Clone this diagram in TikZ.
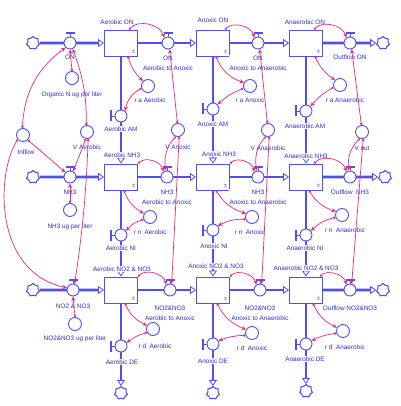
\documentclass[tikz,border=0pt]{standalone}
\usepackage{fontspec}
\setmainfont{Liberation Sans}
\usetikzlibrary{arrows.meta,shapes.symbols,backgrounds}
\definecolor{vblue}{RGB}{80,80,240}
\definecolor{tblue}{RGB}{45,45,205}
\definecolor{vpink}{RGB}{236,40,120}
\newcommand\myhvalve[2]{%
  \node[valve] (#1) at (#2) {};
  \draw[vblue,line width=0.8pt] (#1.north) -- ([yshift=3.5pt]#1.north);
  \fill[vblue] ([xshift=-4.5pt,yshift=3pt]#1.north) rectangle ([xshift=4.5pt,yshift=4.8pt]#1.north);}
\newcommand\myvvalve[2]{%
  \node[valve] (#1) at (#2) {};
  \draw[vblue,line width=0.8pt] (#1.west) -- ([xshift=-3.5pt]#1.west);
  \fill[vblue] ([xshift=-3pt,yshift=-5.5pt]#1.west) rectangle ([xshift=-4.8pt,yshift=5.5pt]#1.west);}
\newcommand\mystock[2]{%
  \node[stock] (#1) at (#2) {};
  \node[pm] (#1pm) at ([xshift=-4.5pt,yshift=5pt]#1.south east) {±};}
\begin{document}
\begin{tikzpicture}[x=1pt,y=-1pt,
  lbl/.style={text=tblue, font=\fontsize{6.4}{10}\selectfont, inner sep=0.6pt, fill=white, align=center},
  pm/.style={text=vblue, font=\fontsize{6}{6}\selectfont, inner sep=0pt},
  stock/.style={draw=vblue, line width=0.9pt, minimum width=33pt, minimum height=26pt, inner sep=0pt, fill=white},
  aux/.style={circle, draw=vblue, line width=0.9pt, minimum size=13pt, inner sep=0pt},
  valve/.style={circle, draw=vblue, line width=0.9pt, minimum size=12pt, inner sep=0pt, fill=white},
  cloudy/.style={cloud, cloud puffs=7, draw=vblue, line width=1.1pt, minimum width=13pt, minimum height=13pt, aspect=1, inner sep=0pt, fill=white},
  pipe/.style={draw=vblue, line width=2.6pt},
  pipein/.style={pipe, arrows={-Triangle[open,length=6pt,width=8pt,line width=0.8pt 0]}},
  link/.style={draw=vpink, line width=0.7pt, arrows={Circle[open,length=2.6pt,width=2.6pt]-Stealth[length=4.5pt,width=4pt]}},
]
\useasboundingbox (0,0) rectangle (400,406);

% ---------- clouds
\node[cloudy] (cl1) at (33,43) {};
\node[cloudy] (cl2) at (33,177) {};
\node[cloudy] (cl3) at (33,290) {};
\node[cloudy] (cr1) at (383,43) {};
\node[cloudy] (cr2) at (385,177) {};
\node[cloudy] (cr3) at (383,290) {};
\node[cloudy] (cbA) at (121,393) {};
\node[cloudy] (cbB) at (213,393) {};
\node[cloudy] (cbC) at (306,391) {};

% ---------- stocks
\mystock{sA1}{121,43}
\mystock{sB1}{213,43}
\mystock{sC1}{306,43}
\mystock{sA2}{121,177}
\mystock{sB2}{213,177}
\mystock{sC2}{306,177}
\mystock{sA3}{121,290}
\mystock{sB3}{213,290}
\mystock{sC3}{306,290}

% ---------- horizontal valves
\myhvalve{vA1}{70,43}
\myhvalve{vAB1}{168,43}
\myhvalve{vBC1}{258,43}
\myhvalve{vC1}{350,43}
\myhvalve{vA2}{70,177}
\myhvalve{vAB2}{167,177}
\myhvalve{vBC2}{258,177}
\myhvalve{vC2}{350,177}
\myhvalve{vA3}{73,290}
\myhvalve{vAB3}{170,290}
\myhvalve{vBC3}{260,290}
\myhvalve{vC3}{350,290}

% ---------- vertical valves
\myvvalve{amA}{121,116}
\myvvalve{amB}{213,109}
\myvvalve{amC}{306,111}
\myvvalve{niA}{121,235}
\myvvalve{niB}{213,230}
\myvvalve{niC}{306,235}
\myvvalve{deA}{121,346}
\myvvalve{deB}{213,344}
\myvvalve{deC}{306,344}

% ---------- auxiliaries
\node[aux] (orgN) at (72,78) {};
\node[aux] (raA) at (148,86) {};
\node[aux] (raB) at (250,86) {};
\node[aux] (raC) at (340,85) {};
\node[aux] (inflow) at (23,135) {};
\node[aux] (vAer) at (87,132) {};
\node[aux] (vAnx) at (178,130) {};
\node[aux] (vAna) at (268,130) {};
\node[aux] (vout) at (362,132) {};
\node[aux] (nh3ug) at (70,210) {};
\node[aux] (rnA) at (150,217) {};
\node[aux] (rnB) at (252,217) {};
\node[aux] (rnC) at (342,215) {};
\node[aux] (no3ug) at (75,324) {};
\node[aux] (rdA) at (153,329) {};
\node[aux] (rdB) at (252,333) {};
\node[aux] (rdC) at (343,331) {};

% ---------- pipes (background)
\begin{scope}[on background layer]
\fill[white] (0,0) rectangle (400,406);
\draw[pipein] (cl1.east) -- (sA1.west);
\draw[pipein] (sA1.east) -- (sB1.west);
\draw[pipein] (sB1.east) -- (sC1.west);
\draw[pipein] (sC1.east) -- (cr1.west);
\draw[pipein] (cl2.east) -- (sA2.west);
\draw[pipein] (sA2.east) -- (sB2.west);
\draw[pipein] (sB2.east) -- (sC2.west);
\draw[pipein] (sC2.east) -- (cr2.west);
\draw[pipein] (cl3.east) -- (sA3.west);
\draw[pipein] (sA3.east) -- (sB3.west);
\draw[pipein] (sB3.east) -- (sC3.west);
\draw[pipein] (sC3.east) -- (cr3.west);
\draw[pipein] (sA1.south) -- (sA2.north);
\draw[pipein] (sA2.south) -- (sA3.north);
\draw[pipein] (sA3.south) -- (cbA.north);
\draw[pipein] (sB1.south) -- (sB2.north);
\draw[pipein] (sB2.south) -- (sB3.north);
\draw[pipein] (sB3.south) -- (cbB.north);
\draw[pipein] (sC1.south) -- (sC2.north);
\draw[pipein] (sC2.south) -- (sC3.north);
\draw[pipein] (sC3.south) -- (cbC.north);
\end{scope}

% ---------- labels
\node[lbl] (tA1) at (117,22) {Aerobic ON};
\node[lbl] (tB1) at (213,20) {Anoxic ON};
\node[lbl] (tC1) at (305,22) {Anaerobic ON};
\node[lbl] (tA2) at (122,155) {Aerobic NH3};
\node[lbl] (tB2) at (219,154) {Anoxic NH3};
\node[lbl] (tC2) at (306,156) {Anaerobic NH3};
\node[lbl] (tA3) at (122,269) {Aerobic NO2 \& NO3};
\node[lbl] (tB3) at (216,266) {Anoxic NO2 \& NO3};
\node[lbl] (tC3) at (306,268) {Anaerobic NO2 \& NO3};

\node[lbl] (fA1) at (70,57) {ON};
\node[lbl] (fAB1) at (168,63) {ON\\Aerobic to Anoxic};
\node[lbl] (fBC1) at (258,63) {ON\\Anoxic to Anaerobic};
\node[lbl] (fC1) at (350,57) {Outflow ON};
\node[lbl] (fA2) at (70,192) {NH3};
\node[lbl] (fAB2) at (167,197) {NH3\\Aerobic to Anoxic};
\node[lbl] (fBC2) at (258,197) {NH3\\Anoxic to Anaerobic};
\node[lbl] (fC2) at (350,192) {Outflow\ \ NH3};
\node[lbl] (fA3) at (73,306) {NO2 \& NO3};
\node[lbl] (fAB3) at (170,313) {NO2\&NO3\\Aerobic to Anoxic};
\node[lbl] (fBC3) at (260,313) {NO2\&NO3\\Anoxic to Anaerobic};
\node[lbl] (fC3) at (350,308) {Outflow NO2\&NO3};

\node[lbl] (lamA) at (121,129) {Aerobic AM};
\node[lbl] (lamB) at (213,124) {Anoxic AM};
\node[lbl] (lamC) at (305,126) {Anaerobic AM};
\node[lbl] (lniA) at (121,248) {Aerobic NI};
\node[lbl] (lniB) at (214,246) {Anoxic NI};
\node[lbl] (lniC) at (305,248) {Anaerobic NI};
\node[lbl] (ldeA) at (122,362) {Aerobic DE};
\node[lbl] (ldeB) at (213,361) {Anoxic DE};
\node[lbl] (ldeC) at (305,359) {Anaerobic DE};

\node[lbl] (lorgN) at (72,95) {Organic N ug per liter};
\node[lbl] (lraA) at (150,100) {r a Aerobic};
\node[lbl] (lraB) at (250,100) {r a Anoxic};
\node[lbl] (lraC) at (345,100) {r a Anaerobic};
\node[lbl] (linflow) at (26,152) {Inflow};
\node[lbl] (lvAer) at (87,147) {V Aerobic};
\node[lbl] (lvAnx) at (178,147) {V Anoxic};
\node[lbl] (lvAna) at (268,148) {V Anaerobic};
\node[lbl] (lvout) at (362,148) {V out};
\node[lbl] (lnh3ug) at (70,227) {NH3 ug per liter};
\node[lbl] (lrnA) at (150,232) {r n\ \ Aerobic};
\node[lbl] (lrnB) at (250,232) {r n\ \ Anoxic};
\node[lbl] (lrnC) at (345,230) {r n\ \ Anaerobic};
\node[lbl] (lno3ug) at (75,339) {NO2\&NO3 ug per liter};
\node[lbl] (lrdA) at (155,346) {r d\ \ Aerobic};
\node[lbl] (lrdB) at (252,348) {r d\ \ Anoxic};
\node[lbl] (lrdC) at (345,347) {r d\ \ Anaerobic};

% ---------- links: row 1
\draw[link] (inflow.95) to[bend left=25] (vA1.225);
\draw[link] (vAer.95) to[bend right=10] (vA1.295);
\draw[link] (orgN.90) -- (vA1.270);
\draw[link] ([xshift=8pt]sA1.north) to[bend left=60] (vAB1.125);
\draw[link] ([xshift=7pt]sA1.south) to[bend right=15] (raA.135);
\draw[link] (raA.200) to[bend right=25] (amA.50);
\draw[link] (vAnx.95) -- (vAB1.285);
\draw[link] ([xshift=12pt]sB1.north) to[bend left=60] (vBC1.125);
\draw[link] ([xshift=3pt]sB1.south) to[bend right=25] (raB.150);
\draw[link] (raB.200) to[bend right=10] (amB.45);
\draw[link] (vAna.95) -- (vBC1.285);
\draw[link] ([xshift=8pt]sC1.north) to[bend left=60] (vC1.125);
\draw[link] ([xshift=9pt]sC1.south) to[bend right=15] (raC.135);
\draw[link] (raC.200) to[bend right=10] (amC.45);
\draw[link] (vout.95) -- (vC1.285);

% ---------- links: row 2
\draw[link] (inflow.-45) -- (vA2.135);
\draw[link] (vAer.-100) -- (vA2.60);
\draw[link] (nh3ug.90) -- (vA2.270);
\draw[link] (sA2.north east) to[bend left=60] (vAB2.125);
\draw[link] ([xshift=3pt]sA2.south) to[bend right=20] (rnA.150);
\draw[link] (rnA.200) to[bend right=15] (niA.40);
\draw[link] (vAnx.250) to[bend right=25] (vAB2.100);
\draw[link] (sB2.north east) to[bend left=60] (vBC2.125);
\draw[link] ([xshift=3pt]sB2.south) to[bend right=20] (rnB.150);
\draw[link] (rnB.200) to[bend right=15] (niB.40);
\draw[link] (vAna.250) to[bend right=25] (vBC2.100);
\draw[link] ([xshift=8pt]sC2.north) to[bend left=60] (vC2.125);
\draw[link] ([xshift=3pt]sC2.south) to[bend right=20] (rnC.150);
\draw[link] (rnC.200) to[bend right=15] (niC.40);
\draw[link] (vout.250) to[bend right=25] (vC2.100);

% ---------- links: row 3
\draw[link] (inflow.220) .. controls (-4,175) and (-6,272) .. (vA3.160);
\draw[link] (vAer.-80) to[bend left=3] (vA3.75);
\draw[link] (no3ug.90) -- (vA3.270);
\draw[link] (sA3.north east) to[bend left=60] (vAB3.125);
\draw[link] ([xshift=4pt]sA3.south) to[bend right=20] (rdA.150);
\draw[link] (rdA.210) to[bend right=10] (deA.30);
\draw[link] (vAnx.-80) -- (vAB3.75);
\draw[link] (sB3.north east) to[bend left=60] (vBC3.125);
\draw[link] ([xshift=4pt]sB3.south) to[bend right=20] (rdB.150);
\draw[link] (rdB.200) to[bend right=10] (deB.30);
\draw[link] (vAna.-80) -- (vBC3.75);
\draw[link] ([xshift=14pt]sC3.north) to[bend left=60] (vC3.125);
\draw[link] ([xshift=7pt]sC3.south) to[bend right=20] (rdC.150);
\draw[link] (rdC.200) to[bend right=10] (deC.30);
\draw[link] (vout.-80) -- (vC3.75);
\end{tikzpicture}
\end{document}
